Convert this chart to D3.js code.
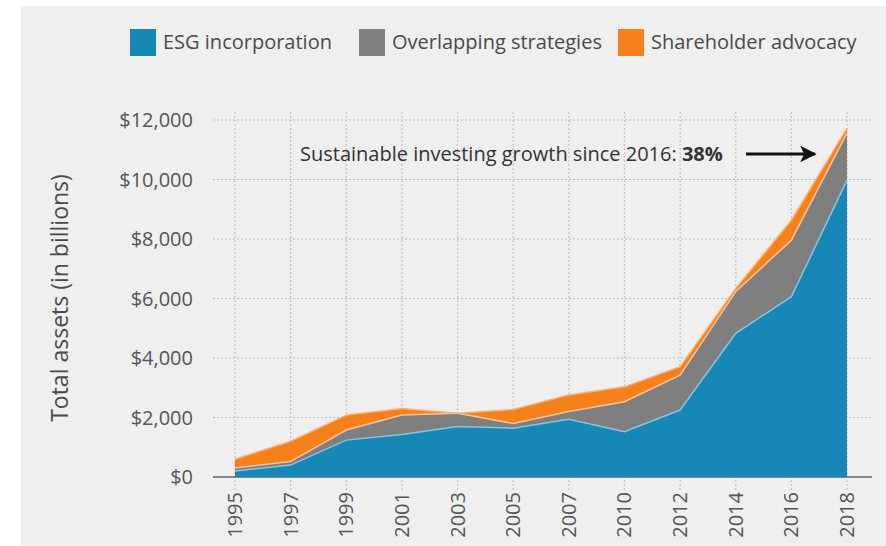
<!DOCTYPE html>
<html>
<head>
<meta charset="utf-8">
<script src="https://cdn.jsdelivr.net/npm/d3@7"></script>
<style>
    body { margin: 0; background: #fff; }
    svg { display: block; font-family: "Open Sans", sans-serif; }
</style>
</head>
<body>
<div id="chart"></div>
<script>
var years = ["1995", "1997", "1999", "2001", "2003", "2005", "2007", "2010", "2012", "2014", "2016", "2018"];
var esg = [200, 400, 1240, 1430, 1700, 1640, 1940, 1520, 2250, 4830, 6060, 9980];
var overlap = [100, 120, 340, 650, 440, 160, 260, 1010, 1170, 1400, 1900, 1580];
var advocacy = [300, 680, 500, 220, 0, 470, 560, 500, 290, 110, 670, 170];
var yTicks = [0, 2000, 4000, 6000, 8000, 10000, 12000];

var seriesNames = ["ESG incorporation", "Overlapping strategies", "Shareholder advocacy"];
var colors = ["#1787b6", "#7f7f7f", "#f6811b"];
var edgeColors = ["#86c4e2", "#f3c39a", "#f9b27a"];

var width = 886, height = 546;

var svg = d3.select("#chart")
    .append("svg")
    .attr("width", width)
    .attr("height", height);

// grey panel
svg.append("rect")
    .attr("x", 21).attr("y", 6)
    .attr("width", width - 21).attr("height", height - 6)
    .attr("fill", "#efefef");

var x = d3.scalePoint().domain(years).range([235, 847]);
var y = d3.scaleLinear().domain([0, 12000]).range([477, 120]);

// grid
svg.append("g").selectAll("line")
    .data(yTicks)
    .enter()
    .append("line")
    .attr("x1", 213).attr("x2", 872)
    .attr("y1", d => y(d)).attr("y2", d => y(d))
    .attr("stroke", "#bdbdbd")
    .attr("stroke-width", 1.2)
    .attr("stroke-dasharray", "2,2");

svg.append("g").selectAll("line")
    .data(years)
    .enter()
    .append("line")
    .attr("x1", d => x(d)).attr("x2", d => x(d))
    .attr("y1", 112).attr("y2", 490)
    .attr("stroke", "#c4c4c4")
    .attr("stroke-width", 1.2)
    .attr("stroke-dasharray", "2,2");

// baseline
svg.append("line")
    .attr("x1", 213).attr("x2", 872)
    .attr("y1", y(0)).attr("y2", y(0))
    .attr("stroke", "#6a6a6a")
    .attr("stroke-width", 1.3);

// stacked areas
var table = years.map(function(yr, i) {
    return { year: yr, esg: esg[i], overlap: overlap[i], advocacy: advocacy[i] };
});
var stack = d3.stack().keys(["esg", "overlap", "advocacy"]);
var layers = stack(table);

var area = d3.area()
    .x(d => x(d.data.year))
    .y0(d => y(d[0]))
    .y1(d => y(d[1]));

var topLine = d3.line()
    .x(d => x(d.data.year))
    .y(d => y(d[1]));

svg.append("g").selectAll("path")
    .data(layers)
    .enter()
    .append("path")
    .attr("d", area)
    .attr("fill", (d, i) => colors[i]);

svg.append("g").selectAll("path")
    .data(layers)
    .enter()
    .append("path")
    .attr("d", topLine)
    .attr("fill", "none")
    .attr("stroke", (d, i) => edgeColors[i])
    .attr("stroke-width", 1.5);

// y axis labels
svg.append("g").selectAll("text")
    .data(yTicks)
    .enter()
    .append("text")
    .attr("x", 193)
    .attr("y", d => y(d))
    .attr("dy", "0.35em")
    .attr("text-anchor", "end")
    .attr("font-size", 20)
    .attr("fill", "#555")
    .text(d => "$" + d3.format(",")(d));

svg.append("text")
    .attr("transform", "translate(60,298) rotate(-90)")
    .attr("dy", "0.35em")
    .attr("text-anchor", "middle")
    .attr("font-size", 23)
    .attr("fill", "#4a4a4a")
    .text("Total assets (in billions)");

// x axis labels
svg.append("g").selectAll("text")
    .data(years)
    .enter()
    .append("text")
    .attr("transform", d => "translate(" + x(d) + ",492) rotate(-90)")
    .attr("dy", "0.35em")
    .attr("text-anchor", "end")
    .attr("font-size", 20)
    .attr("fill", "#555")
    .text(d => d);

// legend
var legendX = [130, 359, 618];
var legend = svg.append("g").selectAll("g")
    .data(seriesNames)
    .enter()
    .append("g")
    .attr("transform", (d, i) => "translate(" + legendX[i] + ",29)");

legend.append("rect")
    .attr("width", 26).attr("height", 27)
    .attr("fill", (d, i) => colors[i]);

legend.append("text")
    .attr("x", 33)
    .attr("y", 13)
    .attr("dy", "0.35em")
    .attr("font-size", 20)
    .attr("fill", "#4a4a4a")
    .text(d => d);

// annotation
var note = svg.append("text")
    .attr("x", 300)
    .attr("y", 161)
    .attr("font-size", 20)
    .attr("fill", "#333");
note.append("tspan").text("Sustainable investing growth since 2016: ");
note.append("tspan").attr("font-weight", "bold").text("38%");

svg.append("defs").append("marker")
    .attr("id", "head")
    .attr("viewBox", "0 0 10 10")
    .attr("refX", 9).attr("refY", 5)
    .attr("markerWidth", 5.5).attr("markerHeight", 5.5)
    .attr("markerUnits", "strokeWidth")
    .attr("orient", "auto")
    .append("path")
    .attr("d", "M0,0 L10,5 L0,10 L2.5,5 Z")
    .attr("fill", "#111");

svg.append("line")
    .attr("x1", 746).attr("x2", 815)
    .attr("y1", 154).attr("y2", 154)
    .attr("stroke", "#111")
    .attr("stroke-width", 3)
    .attr("marker-end", "url(#head)");
</script>
</body>
</html>
